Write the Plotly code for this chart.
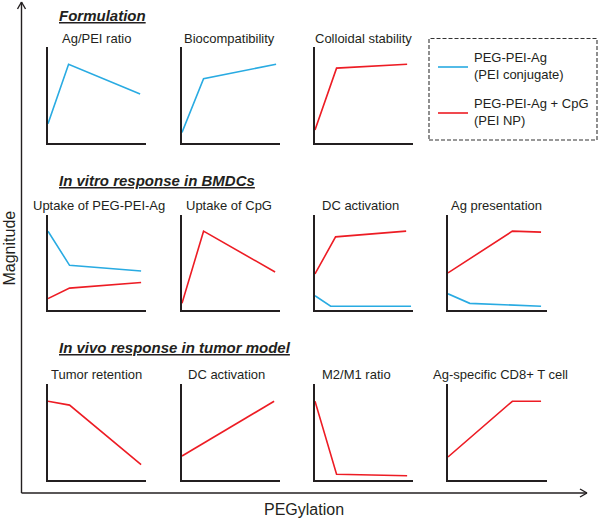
import plotly.graph_objects as go

W, H = 600, 519
BLUE = "#29ABE2"
RED = "#ED1C24"
AXC = "#231F20"
FONT = "Arial, Liberation Sans, sans-serif"

# ---- data (x: relative PEGylation, y: relative magnitude) ----
sections = ["Formulation", "In vitro response in BMDCs", "In vivo response in tumor model"]

p_titles = [
    ["Ag/PEI ratio", "Biocompatibility", "Colloidal stability"],
    ["Uptake of PEG-PEI-Ag", "Uptake of CpG", "DC activation", "Ag presentation"],
    ["Tumor retention", "DC activation", "M2/M1 ratio", "Ag-specific CD8+ T cell"],
]

# row 1
agpei_x = [0, 0.21, 0.94];        agpei_blue = [0.20, 0.82, 0.51]
biocomp_x = [0, 0.22, 0.96];      biocomp_blue = [0.11, 0.67, 0.82]
colloid_x = [0, 0.22, 0.94];      colloid_red = [0.135, 0.78, 0.82]
# row 2
upag_x = [0, 0.22, 0.95];         upag_blue = [0.83, 0.47, 0.41]; upag_red = [0.12, 0.23, 0.29]
upcpg_x = [0, 0.22, 0.95];        upcpg_red = [0.07, 0.83, 0.40]
dcact_red_x = [0, 0.21, 0.93];    dcact_red = [0.38, 0.77, 0.83]
dcact_blue_x = [0, 0.16, 0.98];   dcact_blue = [0.15, 0.04, 0.04]
agpres_red_x = [0, 0.65, 0.94];   agpres_red = [0.39, 0.83, 0.82]
agpres_blue_x = [0, 0.22, 0.94];  agpres_blue = [0.17, 0.07, 0.04]
# row 3
tumret_x = [0, 0.22, 0.95];       tumret_red = [0.82, 0.78, 0.16]
dcvivo_x = [0, 0.94];             dcvivo_red = [0.25, 0.82]
m2m1_x = [0, 0.22, 0.94];         m2m1_red = [0.82, 0.06, 0.045]
cd8_x = [0, 0.65, 0.94];          cd8_red = [0.24, 0.82, 0.82]

legend_names = ["PEG-PEI-Ag<br>(PEI conjugate)", "PEG-PEI-Ag + CpG<br>(PEI NP)"]
x_label = "PEGylation"
y_label = "Magnitude"

panel_series = [
    [[(agpei_x, agpei_blue, BLUE)], [(biocomp_x, biocomp_blue, BLUE)], [(colloid_x, colloid_red, RED)]],
    [[(upag_x, upag_blue, BLUE), (upag_x, upag_red, RED)],
     [(upcpg_x, upcpg_red, RED)],
     [(dcact_red_x, dcact_red, RED), (dcact_blue_x, dcact_blue, BLUE)],
     [(agpres_red_x, agpres_red, RED), (agpres_blue_x, agpres_blue, BLUE)]],
    [[(tumret_x, tumret_red, RED)], [(dcvivo_x, dcvivo_red, RED)],
     [(m2m1_x, m2m1_red, RED)], [(cd8_x, cd8_red, RED)]],
]

# ---- layout geometry (pixels) ----
col_x = [(48, 146), (182, 280), (315, 413), (448, 547)]
row_y = [(47, 143), (215, 310), (384, 480)]
title_cx = [[96, 229, 363], [99, 229, 360, 496], [96, 226, 356, 500]]
title_y = [38, 205, 374]
section_y = [15, 180, 347]


def fx(px):
    return px / W


def fy(py):
    return 1 - py / H


fig = go.Figure()
annotations = []
shapes = []
n = 0
for r, row in enumerate(panel_series):
    for c, series in enumerate(row):
        n += 1
        xa = "x" if n == 1 else f"x{n}"
        ya = "y" if n == 1 else f"y{n}"
        for xs, ys, col in series:
            fig.add_trace(go.Scatter(x=xs, y=ys, mode="lines", xaxis=xa, yaxis=ya,
                                     line=dict(color=col, width=1.6), showlegend=False,
                                     hoverinfo="skip"))
        x0, x1 = col_x[c]
        yt, yb = row_y[r]
        axis_common = dict(showgrid=False, zeroline=False, showticklabels=False,
                           ticks="", showline=True, linecolor=AXC, linewidth=1.6,
                           fixedrange=True)
        fig.layout[("xaxis" if n == 1 else f"xaxis{n}")] = dict(
            domain=[fx(x0), fx(x1)], range=[0, 1], anchor=ya, **axis_common)
        fig.layout[("yaxis" if n == 1 else f"yaxis{n}")] = dict(
            domain=[fy(yb), fy(yt)], range=[0, 1], anchor=xa, **axis_common)
        annotations.append(dict(text=p_titles[r][c], x=fx(title_cx[r][c]), y=fy(title_y[r]),
                                xref="paper", yref="paper", xanchor="center", yanchor="middle",
                                showarrow=False, font=dict(family=FONT, size=13, color="#231F20")))

for s, txt in enumerate(sections):
    annotations.append(dict(text=f"<b><i><u>{txt}</u></i></b>", x=fx(57), y=fy(section_y[s]),
                            xref="paper", yref="paper", xanchor="left", yanchor="middle",
                            showarrow=False, font=dict(family=FONT, size=15, color="#231F20")))

# main axes with open arrowheads
ax0, ay0 = 21.5, 493
line_main = dict(type="line", xref="paper", yref="paper", line=dict(color=AXC, width=1.4))
shapes.append(dict(line_main, x0=fx(ax0), y0=fy(ay0), x1=fx(ax0), y1=fy(2)))
shapes.append(dict(line_main, x0=fx(ax0 - 4), y0=fy(9), x1=fx(ax0), y1=fy(2)))
shapes.append(dict(line_main, x0=fx(ax0 + 4), y0=fy(9), x1=fx(ax0), y1=fy(2)))
shapes.append(dict(line_main, x0=fx(ax0), y0=fy(ay0), x1=fx(587), y1=fy(ay0)))
shapes.append(dict(line_main, x0=fx(580), y0=fy(ay0 - 4), x1=fx(587), y1=fy(ay0)))
shapes.append(dict(line_main, x0=fx(580), y0=fy(ay0 + 4), x1=fx(587), y1=fy(ay0)))

annotations.append(dict(text=y_label, x=fx(8.5), y=fy(248), xref="paper", yref="paper",
                        textangle=-90, showarrow=False, xanchor="center", yanchor="middle",
                        font=dict(family=FONT, size=16, color="#231F20")))
annotations.append(dict(text=x_label, x=fx(304), y=fy(509), xref="paper", yref="paper",
                        showarrow=False, xanchor="center", yanchor="middle",
                        font=dict(family=FONT, size=16, color="#231F20")))

# legend box
shapes.append(dict(type="rect", xref="paper", yref="paper", x0=fx(429), x1=fx(597),
                   y0=fy(140), y1=fy(38.5), line=dict(color="#333333", width=1.1, dash="4px,2px")))
for i, (name, col, ly) in enumerate([(legend_names[0], BLUE, 67), (legend_names[1], RED, 113)]):
    shapes.append(dict(type="line", xref="paper", yref="paper", x0=fx(438), x1=fx(468),
                       y0=fy(ly), y1=fy(ly), line=dict(color=col, width=1.6)))
    annotations.append(dict(text=name, x=fx(472), y=fy(ly - 1), xref="paper", yref="paper",
                            xanchor="left", yanchor="middle", align="left", showarrow=False,
                            font=dict(family=FONT, size=13, color="#231F20")))

fig.update_layout(width=W, height=H, margin=dict(l=0, r=0, t=0, b=0),
                  paper_bgcolor="white", plot_bgcolor="white",
                  annotations=annotations, shapes=shapes, showlegend=False)

fig.write_html("out.html", config={"displayModeBar": False},
               post_script="document.body.style.margin='0';document.body.style.overflow='hidden';")
